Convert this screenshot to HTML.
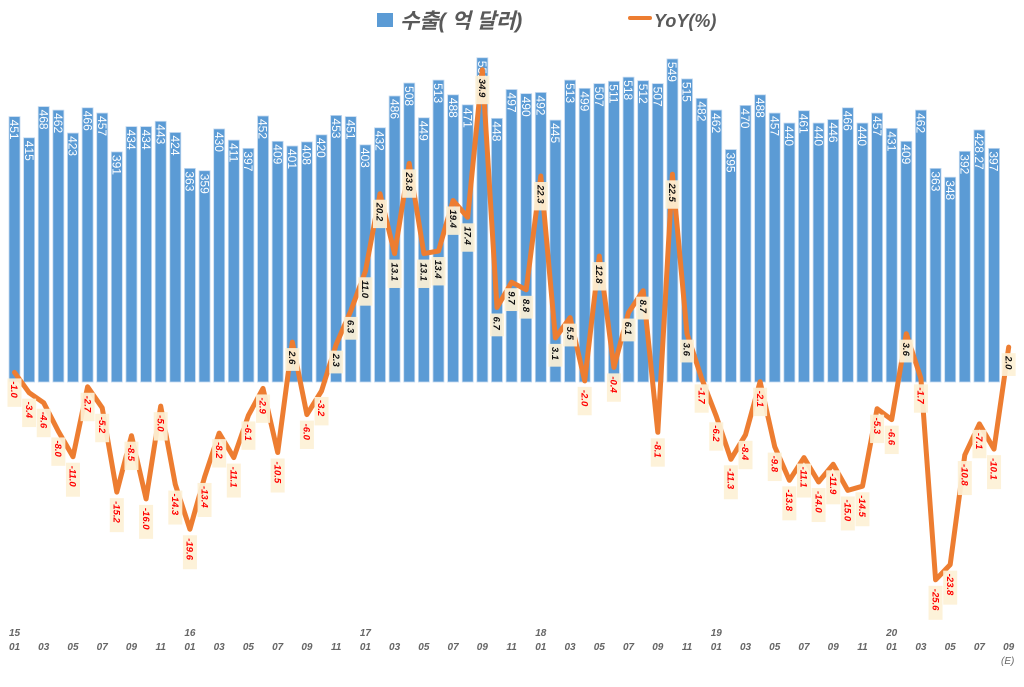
<!DOCTYPE html>
<html><head><meta charset="utf-8"><style>
html,body{margin:0;padding:0;background:#fff;}
svg{display:block;font-family:"Liberation Sans","Noto Sans CJK KR",sans-serif;}
</style></head><body>
<svg id="c" width="1024" height="687" xmlns="http://www.w3.org/2000/svg"></svg>
<script>
const bars=[451,415,468,462,423,466,457,391,434,434,443,424,
363,359,430,411,397,452,409,401,408,420,453,451,
403,432,486,508,449,513,488,471,551,448,497,490,
492,445,513,499,507,511,518,512,507,549,515,482,
462,395,470,488,457,440,461,440,446,466,440,457,
431,409,462,363,348,392,"428.27",397];
const yoy=[-1.0,-3.4,-4.6,-8.0,-11.0,-2.7,-5.2,-15.2,-8.5,-16.0,-5.0,-14.3,
-19.6,-13.4,-8.2,-11.1,-6.1,-2.9,-10.5,2.6,-6.0,-3.2,2.3,6.3,
11.0,20.2,13.1,23.8,13.1,13.4,19.4,17.4,34.9,6.7,9.7,8.8,
22.3,3.1,5.5,-2.0,12.8,-0.4,6.1,8.7,-8.1,22.5,3.6,-1.7,
-6.2,-11.3,-8.4,-2.1,-9.8,-13.8,-11.1,-14.0,-11.9,-15.0,-14.5,-5.3,
-6.6,3.6,-1.7,-25.6,-23.8,-10.8,-7.1,-10.1,2.0];
const X=i=>14.5+14.62*i, base=382, bs=0.5885, z=364, k=8.43;
let s='';
s+=`<rect x="377" y="13" width="16" height="14" fill="#5b9bd5"/>`;
s+=`<text x="400" y="28" font-size="21" font-weight="bold" font-style="italic" fill="#595959">수출( 억 달러)</text>`;
s+=`<rect x="628" y="16" width="24" height="4" rx="2" fill="#ed7d31"/>`;
s+=`<text x="654" y="27" font-size="18" font-weight="bold" font-style="italic" fill="#595959">YoY(%)</text>`;
bars.forEach((v,i)=>{const h=parseFloat(v)*bs,x=X(i);
s+=`<rect x="${x-5.5}" y="${base-h}" width="11" height="${h}" fill="#5b9bd5" stroke="#c5daf0" stroke-width="0.8"/>`;
s+=`<text transform="translate(${x-4.3},${base-h+3}) rotate(90)" font-size="12" fill="#fff">${v}</text>`;});
let p=yoy.map((v,i)=>`${X(i).toFixed(1)},${(z-v*k).toFixed(1)}`).join(' ');
s+=`<polyline points="${p}" fill="none" stroke="#ed7d31" stroke-width="5" stroke-linejoin="round" stroke-linecap="round"/>`;
yoy.forEach((v,i)=>{const x=X(i),y=z-v*k+6;const t=v.toFixed(1);const h=t.length*5.6+6;
s+=`<rect x="${x-7}" y="${y}" width="14" height="${h}" fill="#fdf1d6" opacity="0.92"/>`;
s+=`<text transform="translate(${x-3.3},${y+3}) rotate(90)" font-size="9.5" font-weight="bold" font-style="italic" fill="${v<0?'#ff0000':'#111'}">${t}</text>`;});
for(let i=0;i<69;i+=2){const m=String(i%12+1).padStart(2,'0');
s+=`<text x="${X(i)}" y="650" text-anchor="middle" font-size="10" font-weight="bold" font-style="italic" fill="#666">${m}</text>`;
if(i%12==0)s+=`<text x="${X(i)}" y="636" text-anchor="middle" font-size="10" font-weight="bold" font-style="italic" fill="#666">${15+i/12}</text>`;}
s+=`<text x="${X(68)-1}" y="664" text-anchor="middle" font-size="10" font-style="italic" fill="#666">(E)</text>`;
document.getElementById('c').innerHTML=s;
</script>
</body></html>
